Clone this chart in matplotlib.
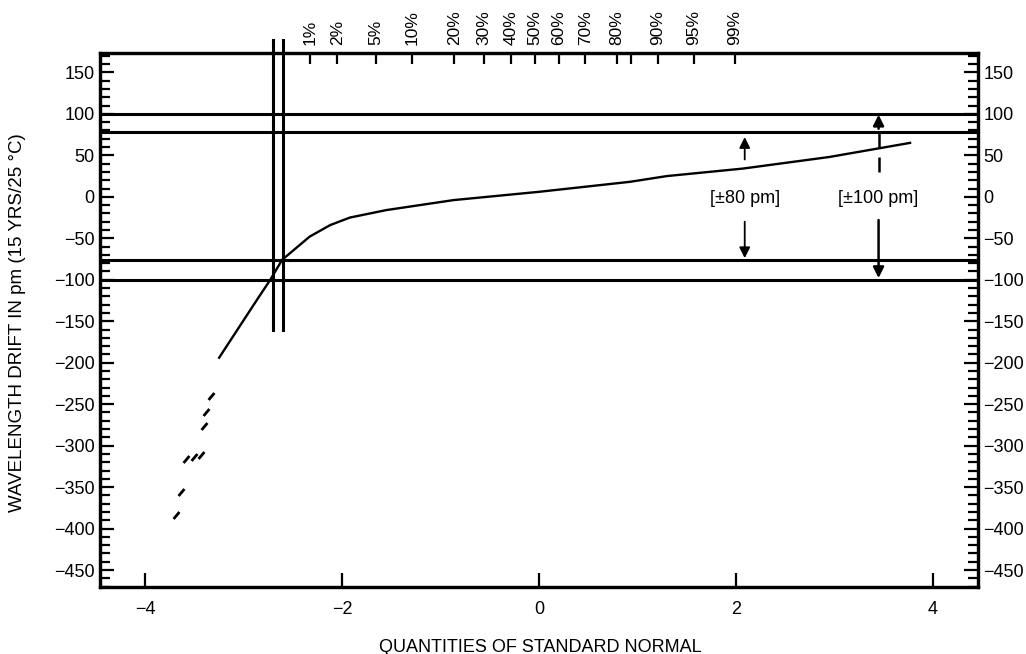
import numpy as np
import matplotlib.pyplot as plt
from matplotlib.path import Path
from matplotlib.ticker import MultipleLocator

plt.rcParams['font.family'] = ['Liberation Sans', 'DejaVu Sans']

# drift curve: standard normal quantile vs wavelength drift (pm)
curve_z = [-3.25, -2.87, -2.73, -2.61, -2.49, -2.33, -2.12, -1.92, -1.55,
           -0.87, 0.0, 0.92, 1.30, 2.07, 2.95, 3.77]
curve_pm = [-194, -125, -100, -76, -64, -48, -34, -25, -16,
            -4, 6, 18, 25, 34, 48, 65]

# isolated low-tail units
tail_z = [-3.33, -3.38, -3.40, -3.43, -3.51, -3.59, -3.64, -3.69]
tail_pm = [-240, -259, -276, -311, -314, -316, -356, -384]

# cumulative percentage scale along the top
pct_labels = ['1%', '2%', '5%', '10%', '20%', '30%', '40%', '50%',
              '60%', '70%', '80%', '', '90%', '95%', '99%']
pct_z = [-2.33, -2.05, -1.66, -1.29, -0.86, -0.56, -0.28, -0.04,
         0.20, 0.47, 0.79, 0.93, 1.21, 1.57, 1.99]

spec_80 = [78, -76]
spec_100 = [100, -100]
cut_z = [-2.70, -2.60]

fig = plt.figure(figsize=(10.26, 6.54), dpi=100)
ax = fig.add_axes([0.0975, 0.103, 0.8557, 0.8155])
ax.set_xlim(-4.46, 4.46)
ax.set_ylim(-470, 173)

for s in ax.spines.values():
    s.set_linewidth(2.3)

# spec limit lines
for v in spec_100 + spec_80:
    ax.axhline(v, color='k', lw=2.2)

# cut-off verticals, running past the top frame
for z in cut_z:
    ax.plot([z, z], [189, -161], color='k', lw=2.2, clip_on=False, zorder=3)

ax.plot(curve_z, curve_pm, color='k', lw=1.7)

ang = np.deg2rad(50)
stroke = Path([(-np.cos(ang), -np.sin(ang)), (np.cos(ang), np.sin(ang))],
              [Path.MOVETO, Path.LINETO])
ax.plot(tail_z, tail_pm, ls='none', marker=stroke, ms=5, mew=2.0,
        color='k')

# arrows and labels for the two windows
lab_fs = 13
x80, x100 = 2.09, 3.45
ax.text(x80, -2, '[\u00b180 pm]', ha='center', va='center', fontsize=lab_fs)
ax.text(x100, -2, '[\u00b1100 pm]', ha='center', va='center', fontsize=lab_fs)
head = dict(arrowstyle='-|>', color='k', shrinkA=0, shrinkB=0,
            mutation_scale=16)
ax.annotate('', xy=(x80, 72), xytext=(x80, 45),
            arrowprops=dict(head, lw=1.3))
ax.annotate('', xy=(x80, -74), xytext=(x80, -30),
            arrowprops=dict(head, lw=1.3))
ax.plot([x100, x100], [30, 82], color='k', lw=1.8, ls=(0, (6, 4)))
ax.annotate('', xy=(x100, 99), xytext=(x100, 82),
            arrowprops=dict(head, lw=1.8))
ax.annotate('', xy=(x100, -98), xytext=(x100, -28),
            arrowprops=dict(head, lw=1.8))

# axes ticks
ax.set_xticks([-4, -2, 0, 2, 4])
ax.yaxis.set_major_locator(MultipleLocator(50))
ax.yaxis.set_minor_locator(MultipleLocator(10))
ax.set_yticks(np.arange(-450, 151, 50))
ax.tick_params(axis='y', which='both', direction='in', left=True, right=True,
               labelleft=True, labelright=True, labelsize=13, pad=4)
ax.tick_params(axis='y', which='major', length=10, width=1.6)
ax.tick_params(axis='y', which='minor', length=7, width=1.6)
ax.tick_params(axis='x', which='major', direction='in', length=10, width=1.6,
               labelsize=13, pad=10, top=False)

top = ax.twiny()
top.set_xlim(ax.get_xlim())
top.set_xticks(pct_z)
top.set_xticklabels(pct_labels, rotation=90)
top.tick_params(axis='x', direction='in', length=8, width=1.6,
                labelsize=12.5, pad=6)
for s in top.spines.values():
    s.set_linewidth(2.3)

fig.text(540 / 1026, 1 - 647 / 654, 'QUANTITIES OF STANDARD NORMAL',
         ha='center', va='center', fontsize=13)
fig.text(18 / 1026, 1 - 323 / 654, 'WAVELENGTH DRIFT IN pm (15 YRS/25 \u00b0C)',
         ha='center', va='center', rotation=90, fontsize=13.5)

fig.savefig('out.png', dpi=100)
